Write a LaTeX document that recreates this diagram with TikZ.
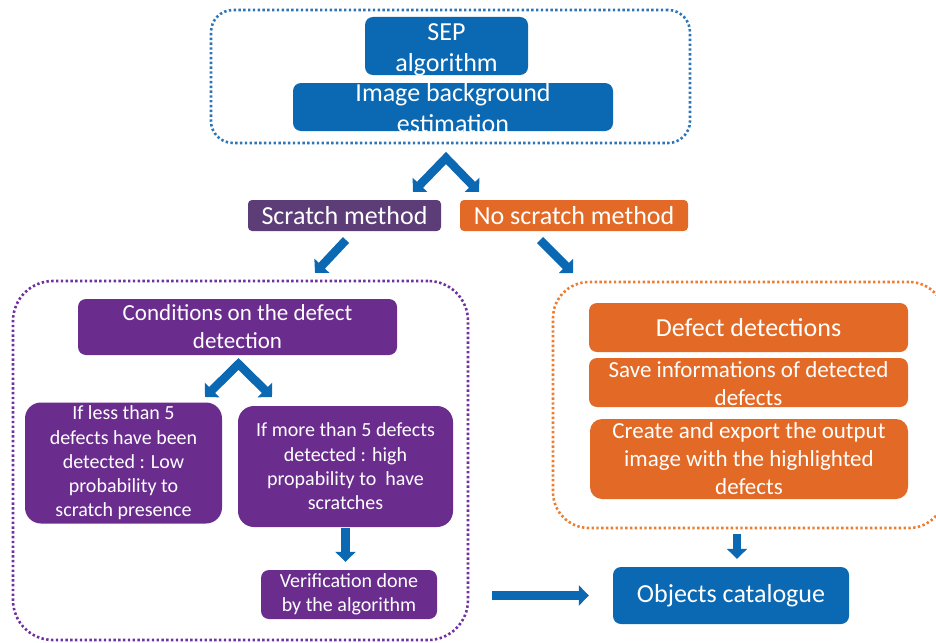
\documentclass[tikz,border=0pt]{standalone}
\usepackage{fontspec}
\setmainfont{Carlito}
\usepackage{tikz}
\usetikzlibrary{positioning,arrows.meta}
\usepackage{xcolor}

\definecolor{sepblue}{RGB}{11,104,178}
\definecolor{scratchpurple}{RGB}{92,61,120}
\definecolor{condpurple}{RGB}{106,45,142}
\definecolor{defectorange}{RGB}{227,106,38}
\definecolor{frameblue}{RGB}{46,117,182}
\definecolor{framepurple}{RGB}{112,48,160}
\definecolor{frameorange}{RGB}{237,125,49}

\begin{document}
\begin{tikzpicture}[x=1pt,y=-1pt,
  box/.style={fill=#1,rounded corners=8pt,inner sep=0pt,text=white,align=center},
  frame/.style={draw=#1,line width=2.6pt,dash pattern=on 2.4pt off 2.4pt,inner sep=0pt},
  bigtxt/.style={font=\fontsize{26}{30.5}\selectfont},
  midtxt/.style={font=\fontsize{23}{28}\selectfont},
  smalltxt/.style={font=\fontsize{20}{24.3}\selectfont},
  flow/.style={draw=sepblue,line width=8.5pt,-{Triangle[length=10pt,width=20pt]}},
  chevron/.style={flow,{Triangle[length=10pt,width=20pt]}-{Triangle[length=10pt,width=20pt]},line join=miter}]
\clip (0,0) rectangle (936,642);

% top block
\node[frame=frameblue,rounded corners=22pt,minimum width=479pt,minimum height=133pt] (topframe) at (450.5,76.5) {};
\node[box=sepblue,minimum width=163pt,minimum height=58pt] (sep) at (446.5,46) {};
\node[bigtxt,text=white,align=center] (septxt) at ([yshift=-4pt]sep) {SEP\\algorithm};
\node[box=sepblue,minimum width=320pt,minimum height=48pt] (bg) at (453,107) {};
\node[bigtxt,text=white,align=center] (bgtxt) at ([yshift=-1pt]bg) {Image background\\estimation};

% the two methods
\coordinate (chl) at (413,192);
\coordinate (cha) at (446,158);
\coordinate (chr) at (479,192);
\draw[chevron] (chl) -- (cha) -- (chr);
\node[box=scratchpurple,bigtxt,minimum width=193pt,minimum height=31pt,rounded corners=4pt] (scratch) at (344.5,215.5) {Scratch method};
\node[box=defectorange,bigtxt,minimum width=228pt,minimum height=31pt,rounded corners=4pt] (noscratch) at (574,215.5) {No scratch method};

\coordinate (sa) at (346,240);
\coordinate (sb) at (315,273);
\coordinate (na) at (540,240);
\coordinate (nb) at (573,273);
\draw[flow] (sa) -- (sb);
\draw[flow] (na) -- (nb);

% scratch branch
\node[frame=framepurple,rounded corners=40pt,minimum width=455pt,minimum height=359pt] (leftframe) at (240.5,460.5) {};
\node[box=condpurple,midtxt,minimum width=319pt,minimum height=56pt] (cond) at (237.5,327) {Conditions on the defect\\detection};
\coordinate (cl) at (205,397);
\coordinate (ca) at (238.5,364);
\coordinate (cr) at (272,397);
\draw[chevron] (cl) -- (ca) -- (cr);
\node[box=condpurple,smalltxt,rounded corners=16pt,minimum width=197pt,minimum height=121pt] (lowprob) at (123.5,463) {If less than 5\\defects have been\\detected : Low\\probability to\\scratch presence};
\node[box=condpurple,smalltxt,rounded corners=16pt,minimum width=215pt,minimum height=121pt] (highprob) at (345.5,466.5) {If more than 5 defects\\detected : high\\propability to\ \ have\\scratches};
\node[box=condpurple,smalltxt,minimum width=176pt,minimum height=49pt] (verif) at (349,594.5) {Verification done\\by the algorithm};
\draw[flow,shorten <=1pt,shorten >=8pt] (highprob.south) -- (highprob.south |- verif.north);

% no scratch branch
\node[frame=frameorange,rounded corners=36pt,minimum width=392pt,minimum height=246pt] (rightframe) at (749,405) {};
\node[box=defectorange,bigtxt,minimum width=319pt,minimum height=49pt] (defdet) at (748.5,327.5) {Defect detections};
\node[box=defectorange,minimum width=319pt,minimum height=49pt] (save) at (748.5,382.5) {};
\node[midtxt,text=white,align=center] (savetxt) at ([yshift=-1pt]save) {Save informations of detected\\defects};
\node[box=defectorange,midtxt,rounded corners=12pt,minimum width=318pt,minimum height=80pt] (create) at (749,459) {Create and export the output\\image with the highlighted\\defects};

% catalogue
\node[box=sepblue,bigtxt,minimum width=236pt,minimum height=57pt] (cat) at (731,595.5) {Objects catalogue};
\draw[flow,shorten <=5pt,shorten >=8pt] ([xshift=6pt]cat.north |- rightframe.south) -- ([xshift=6pt]cat.north);
\draw[flow,shorten <=55pt,shorten >=24pt] (verif.east |- cat.west) -- (cat.west);
\end{tikzpicture}
\end{document}
